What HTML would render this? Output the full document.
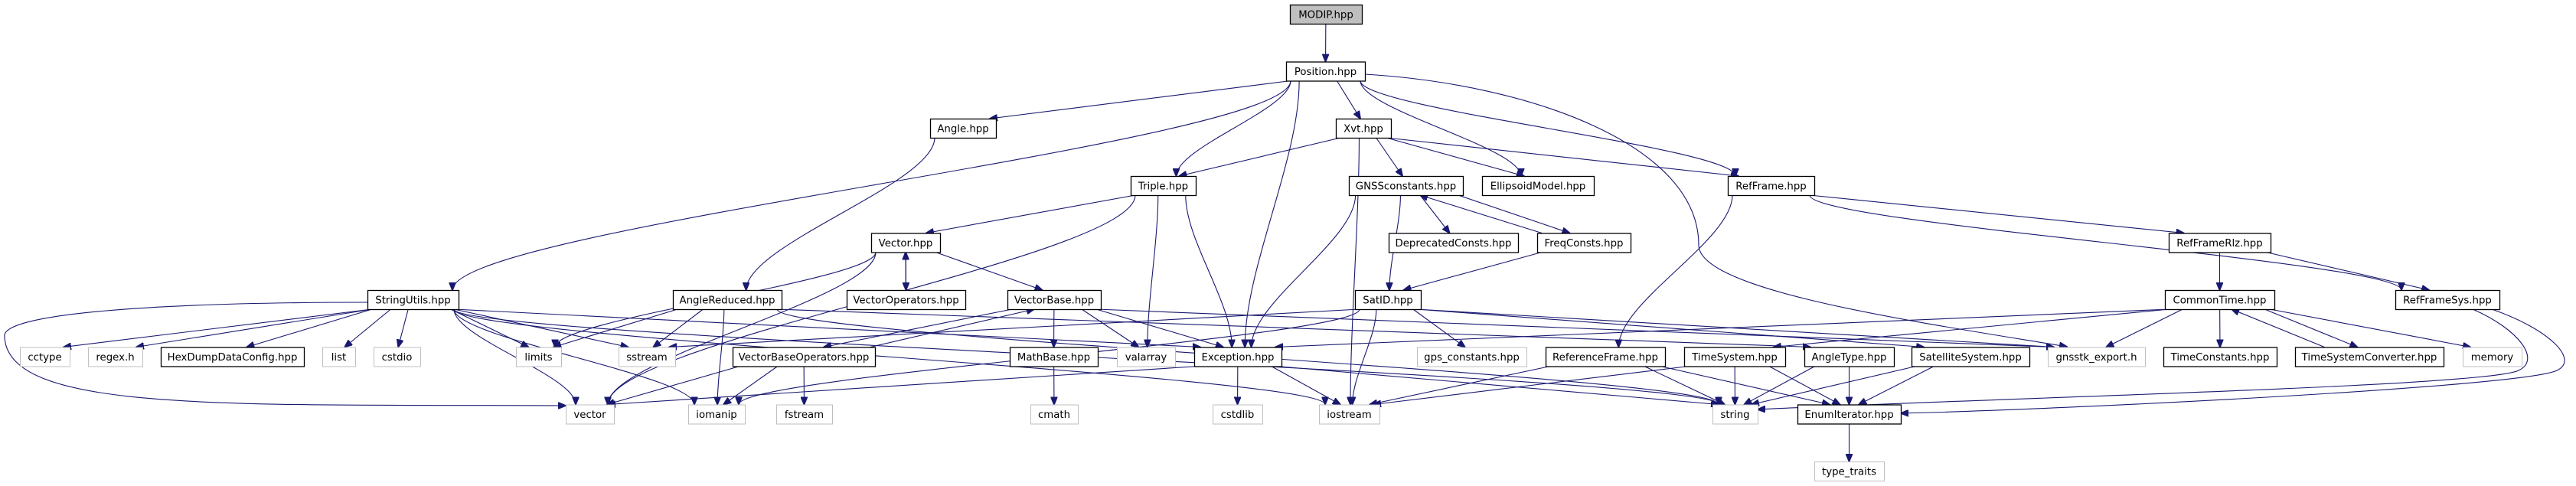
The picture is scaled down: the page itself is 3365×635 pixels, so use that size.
<!DOCTYPE html>
<html><head><meta charset="utf-8">
<style>
html,body{margin:0;padding:0;background:#fff;}
svg{display:block;}
text{font-family:"DejaVu Sans","Liberation Sans",sans-serif;font-size:13.3px;fill:#000;}
</style></head>
<body>
<svg id="g" xmlns="http://www.w3.org/2000/svg" width="3365" height="635" viewBox="0 0 3365 635">
<defs>
<marker id="a" markerUnits="userSpaceOnUse" markerWidth="11" markerHeight="9" refX="10" refY="4.5" orient="auto">
<path d="M0,0 L11,4.5 L0,9 z" fill="#191970" stroke="#191970"/>
</marker>
</defs>
<g id="edges" fill="none" stroke="#191970" stroke-width="1.1"></g>
<g id="nodes"></g>
</svg>
<svg width="0" height="0" style="position:absolute">
<text>MODIP.hpp Position.hpp Angle.hpp Xvt.hpp Triple.hpp GNSSconstants.hpp EllipsoidModel.hpp RefFrame.hpp Vector.hpp DeprecatedConsts.hpp FreqConsts.hpp RefFrameRlz.hpp StringUtils.hpp AngleReduced.hpp VectorOperators.hpp VectorBase.hpp SatID.hpp CommonTime.hpp RefFrameSys.hpp cctype regex.h HexDumpDataConfig.hpp list cstdio limits sstream VectorBaseOperators.hpp MathBase.hpp valarray Exception.hpp gps_constants.hpp ReferenceFrame.hpp TimeSystem.hpp AngleType.hpp SatelliteSystem.hpp gnsstk_export.h TimeConstants.hpp TimeSystemConverter.hpp memory vector iomanip fstream cmath cstdlib iostream string EnumIterator.hpp type_traits</text>
</svg>
<script>
var rows=[6,80.5,155,230,304.5,379,453.5,528.5,603],H=25;
var N={
"MODIP.hpp":[1685,1779,0,2],
"Position.hpp":[1680,1783,1],
"Angle.hpp":[1215,1301,2],
"Xvt.hpp":[1745,1817,2],
"Triple.hpp":[1477,1562,3],
"GNSSconstants.hpp":[1762,1911,3],
"EllipsoidModel.hpp":[1936,2082,3],
"RefFrame.hpp":[2257,2370,3],
"Vector.hpp":[1138,1228,4],
"DeprecatedConsts.hpp":[1814,1983,4],
"FreqConsts.hpp":[2008,2130,4],
"RefFrameRlz.hpp":[2833,2966,4],
"StringUtils.hpp":[480,599,5],
"AngleReduced.hpp":[879,1021,5],
"VectorOperators.hpp":[1106,1261,5],
"VectorBase.hpp":[1316,1438,5],
"SatID.hpp":[1770,1856,5],
"CommonTime.hpp":[2828,2971,5],
"RefFrameSys.hpp":[3129,3265,5],
"cctype":[26,91,6,1],"regex.h":[115,186,6,1],"HexDumpDataConfig.hpp":[210,397,6],
"list":[421,464,6,1],"cstdio":[488,549,6,1],"limits":[674,733,6,1],"sstream":[808,882,6,1],
"VectorBaseOperators.hpp":[957,1143,6],"MathBase.hpp":[1319,1434,6],"valarray":[1459,1535,6,1],
"Exception.hpp":[1560,1674,6],"gps_constants.hpp":[1851,1994,6,1],"ReferenceFrame.hpp":[2019,2175,6],
"TimeSystem.hpp":[2200,2332,6],"AngleType.hpp":[2357,2474,6],"SatelliteSystem.hpp":[2497,2651,6],
"gnsstk_export.h":[2675,2802,6,1],"TimeConstants.hpp":[2826,2974,6],"TimeSystemConverter.hpp":[2998,3192,6],
"memory":[3217,3294,6,1],
"vector":[739,802,7,1],"iomanip":[899,973,7,1],"fstream":[1014,1087,7,1],"cmath":[1346,1408,7,1],
"cstdlib":[1584,1649,7,1],"iostream":[1723,1802,7,1],"string":[2237,2296,7,1],"EnumIterator.hpp":[2348,2483,7],
"type_traits":[2370,2461,8,1]
};
var NS="http://www.w3.org/2000/svg";
var ng=document.getElementById("nodes"),eg=document.getElementById("edges");
for(var k in N){var n=N[k],y=rows[n[2]];
 var r=document.createElementNS(NS,"rect");
 r.setAttribute("x",n[0]+0.5);r.setAttribute("y",y+0.5);r.setAttribute("width",n[1]-n[0]);r.setAttribute("height",H);
 r.setAttribute("fill",n[3]==2?"#bfbfbf":"#fff");r.setAttribute("stroke",n[3]==1?"#bfbfbf":"#000");r.setAttribute("stroke-width",n[3]==1?1:1.3);
 ng.appendChild(r);
 var t=document.createElementNS(NS,"text");t.setAttribute("x",(n[0]+n[1])/2);t.setAttribute("y",y+17.5);t.setAttribute("text-anchor","middle");
 t.textContent=k;ng.appendChild(t);}
function cl(v,m){return Math.max(-m,Math.min(m,v));}
function P(d){var p=document.createElementNS(NS,"path");p.setAttribute("d",d);p.setAttribute("marker-end","url(#a)");eg.appendChild(p);}
function E(a,b){var A=N[a],B=N[b];var ca=(A[0]+A[1])/2,cb=(B[0]+B[1])/2,wa=(A[1]-A[0])/2-6,wb=(B[1]-B[0])/2-8;
 var sx,sy,ex,ey;
 if(B[2]>A[2]){sy=rows[A[2]]+H;ey=rows[B[2]];sx=ca+cl((cb-ca)*0.3,wa);ex=cb+cl((ca-cb)*0.08,wb);}
 else{sy=rows[A[2]];ey=rows[B[2]]+H;sx=ca+cl((cb-ca)*0.3,wa);ex=cb+cl((ca-cb)*0.08,wb);}
 if(Math.abs(B[2]-A[2])>1) P("M"+sx+","+sy+" C"+sx+","+(sy+(ey-sy)*0.3)+" "+ex+","+(ey-(ey-sy)*0.3)+" "+ex+","+ey);
 else P("M"+sx+","+sy+" L"+ex+","+ey);}
var L=[
["MODIP.hpp","Position.hpp"],
["Position.hpp","StringUtils.hpp"],["Position.hpp","Angle.hpp"],["Position.hpp","Triple.hpp"],["Position.hpp","Exception.hpp"],
["Position.hpp","Xvt.hpp"],["Position.hpp","EllipsoidModel.hpp"],["Position.hpp","RefFrame.hpp"],
["Angle.hpp","AngleReduced.hpp"],
["Xvt.hpp","Triple.hpp"],["Xvt.hpp","GNSSconstants.hpp"],["Xvt.hpp","EllipsoidModel.hpp"],["Xvt.hpp","RefFrame.hpp"],["Xvt.hpp","iostream"],
["Triple.hpp","Vector.hpp"],["Triple.hpp","valarray"],["Triple.hpp","Exception.hpp"],["Triple.hpp","vector"],
["Vector.hpp","VectorOperators.hpp"],["Vector.hpp","VectorBase.hpp"],["Vector.hpp","limits"],["Vector.hpp","vector"],
["VectorOperators.hpp","Vector.hpp"],
["GNSSconstants.hpp","DeprecatedConsts.hpp"],["GNSSconstants.hpp","FreqConsts.hpp"],["GNSSconstants.hpp","SatID.hpp"],["GNSSconstants.hpp","Exception.hpp"],
["FreqConsts.hpp","GNSSconstants.hpp"],["FreqConsts.hpp","SatID.hpp"],
["RefFrame.hpp","ReferenceFrame.hpp"],["RefFrame.hpp","RefFrameRlz.hpp"],["RefFrame.hpp","RefFrameSys.hpp"],
["RefFrameRlz.hpp","CommonTime.hpp"],["RefFrameRlz.hpp","RefFrameSys.hpp"],
["CommonTime.hpp","Exception.hpp"],["CommonTime.hpp","TimeSystem.hpp"],["CommonTime.hpp","gnsstk_export.h"],["CommonTime.hpp","TimeConstants.hpp"],
["CommonTime.hpp","TimeSystemConverter.hpp"],["CommonTime.hpp","memory"],
["TimeSystemConverter.hpp","CommonTime.hpp"],
["SatID.hpp","sstream"],["SatID.hpp","gps_constants.hpp"],["SatID.hpp","iostream"],["SatID.hpp","iomanip"],["SatID.hpp","SatelliteSystem.hpp"],["SatID.hpp","gnsstk_export.h"],
["VectorBase.hpp","MathBase.hpp"],["VectorBase.hpp","valarray"],["VectorBase.hpp","Exception.hpp"],["VectorBase.hpp","VectorBaseOperators.hpp"],["VectorBase.hpp","gnsstk_export.h"],
["VectorBaseOperators.hpp","vector"],["VectorBaseOperators.hpp","iomanip"],["VectorBaseOperators.hpp","fstream"],["VectorBaseOperators.hpp","VectorBase.hpp"],
["MathBase.hpp","cmath"],
["Exception.hpp","cstdlib"],["Exception.hpp","iostream"],["Exception.hpp","string"],["Exception.hpp","vector"],
["AngleReduced.hpp","limits"],["AngleReduced.hpp","sstream"],["AngleReduced.hpp","iomanip"],["AngleReduced.hpp","AngleType.hpp"],["AngleReduced.hpp","string"],
["StringUtils.hpp","cctype"],["StringUtils.hpp","regex.h"],["StringUtils.hpp","HexDumpDataConfig.hpp"],["StringUtils.hpp","list"],["StringUtils.hpp","cstdio"],
["StringUtils.hpp","limits"],["StringUtils.hpp","sstream"],["StringUtils.hpp","vector"],["StringUtils.hpp","iostream"],["StringUtils.hpp","iomanip"],
["StringUtils.hpp","string"],["StringUtils.hpp","Exception.hpp"],
["ReferenceFrame.hpp","iostream"],["ReferenceFrame.hpp","string"],["ReferenceFrame.hpp","EnumIterator.hpp"],
["TimeSystem.hpp","string"],["TimeSystem.hpp","EnumIterator.hpp"],["TimeSystem.hpp","iostream"],
["AngleType.hpp","string"],["AngleType.hpp","EnumIterator.hpp"],
["SatelliteSystem.hpp","string"],["SatelliteSystem.hpp","EnumIterator.hpp"],
["EnumIterator.hpp","type_traits"]
];
L.forEach(function(e){E(e[0],e[1]);});
P("M1783,97 C2000,110 2219,190 2219,320 C2219,380 2500,420 2700,453");
P("M480,395 C200,395 0,410 6,440 C10,540 300,528 739,530");
P("M3230,404 C3290,430 3320,470 3290,484 C3250,505 2600,520 2296,535");
P("M3255,404 C3330,430 3370,470 3340,484 C3300,505 2700,535 2483,540");
</script>
</body></html>
